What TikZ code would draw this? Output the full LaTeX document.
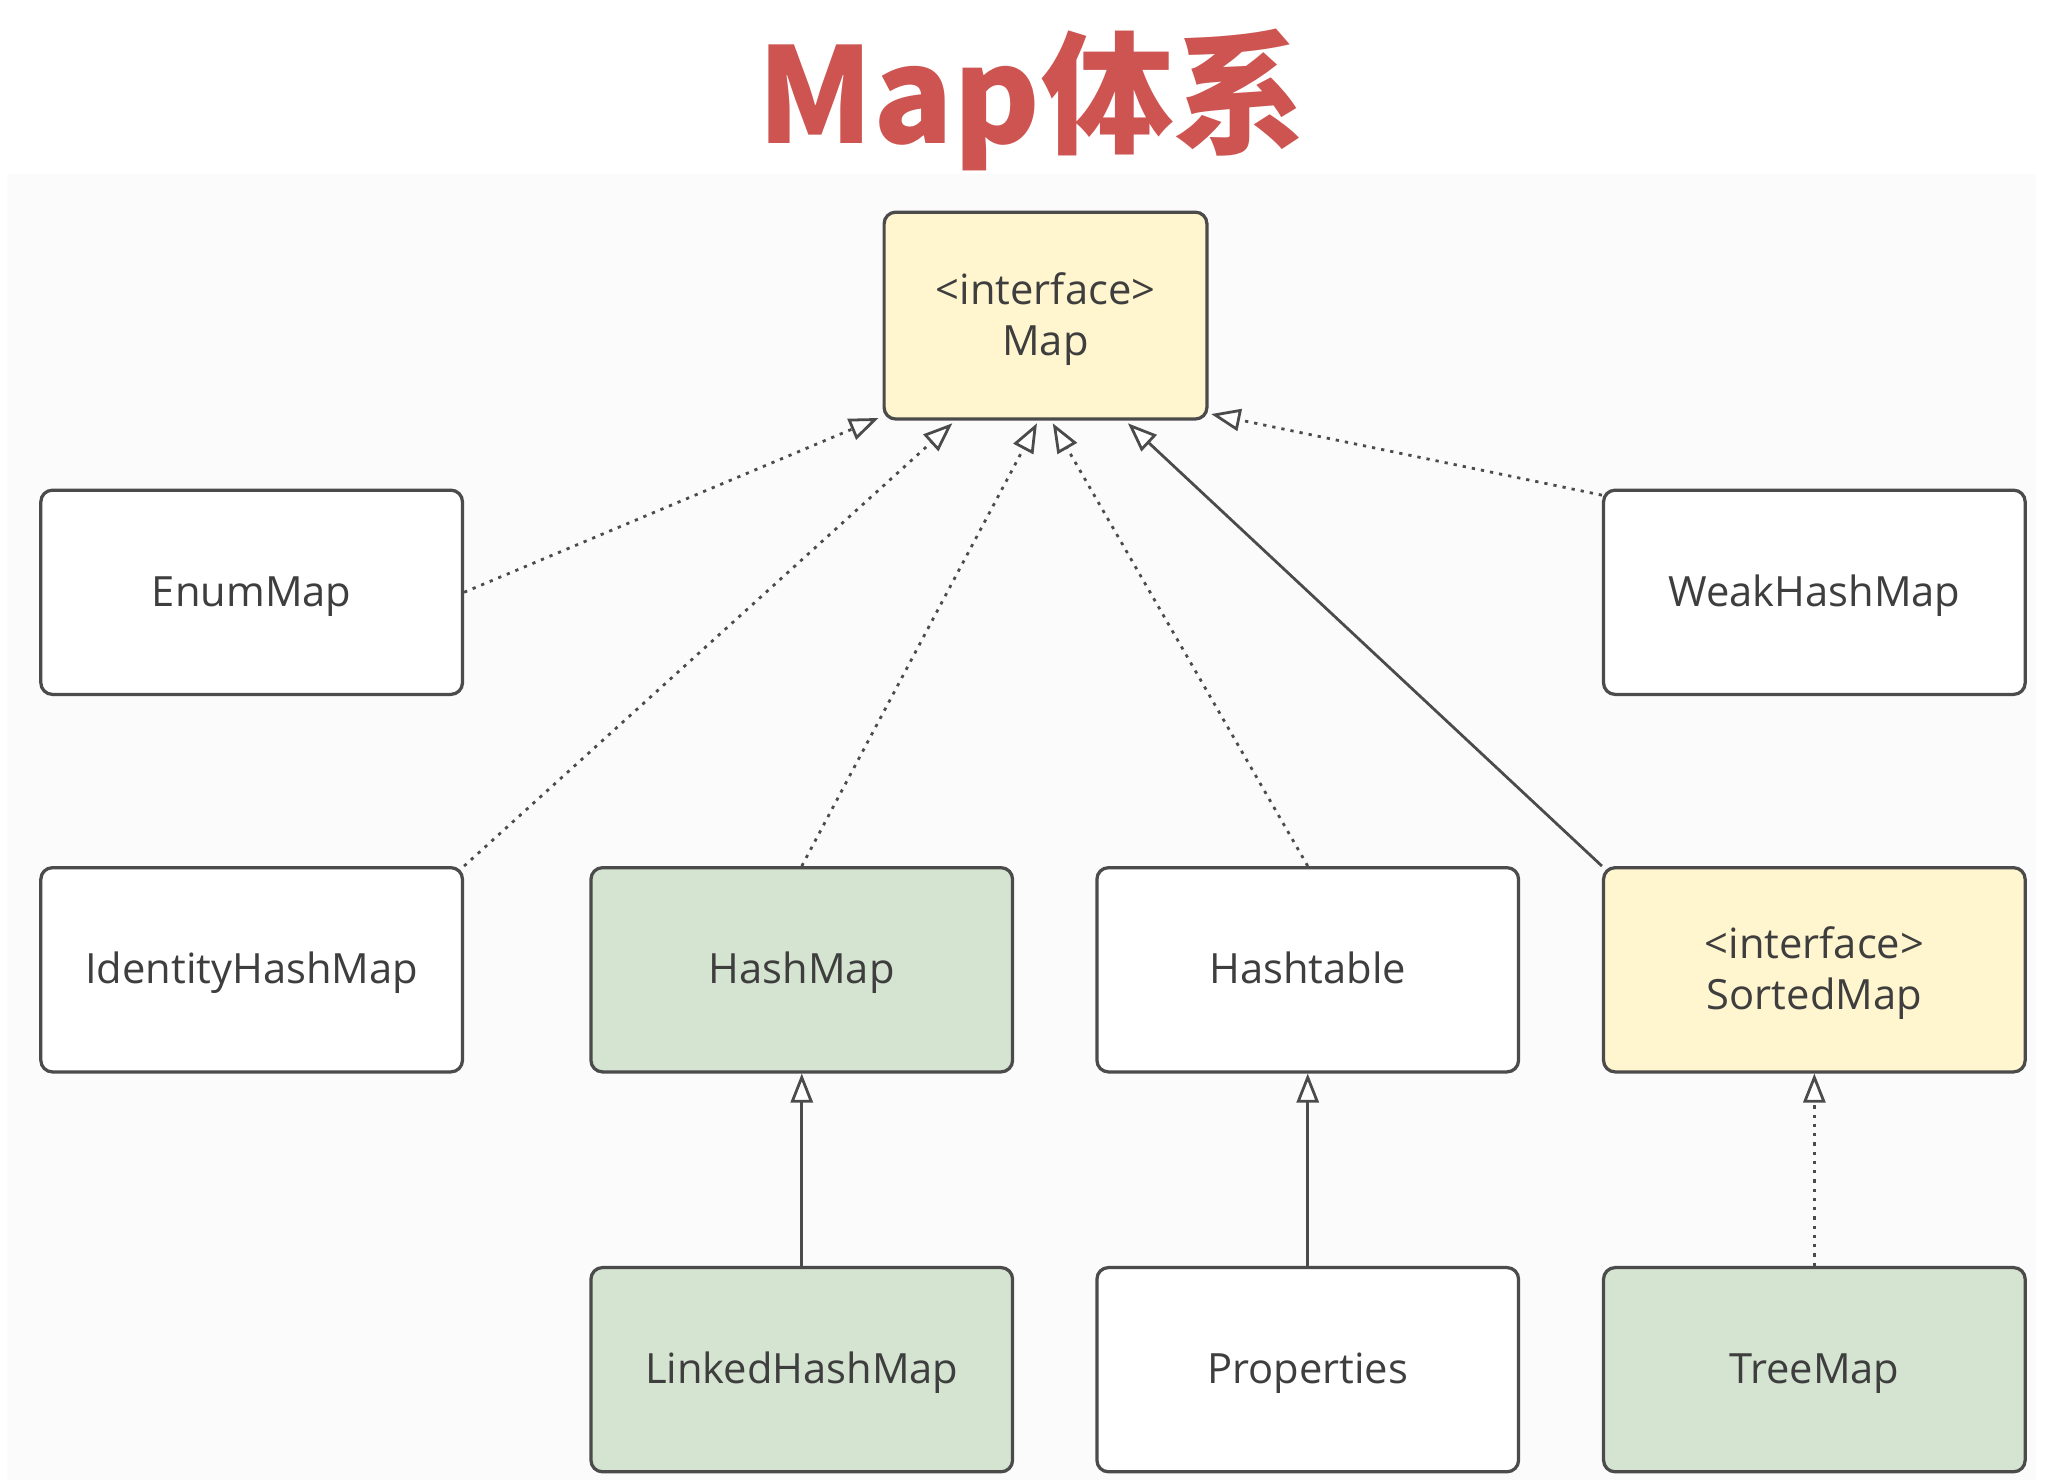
\documentclass[tikz,border=0pt]{standalone}
\usepackage{fontspec}
\setmainfont{Open Sans}
\newfontfamily\cjk{Noto Sans CJK SC}
\usetikzlibrary{arrows.meta,calc}
\definecolor{titlered}{RGB}{205,84,80}
\definecolor{yel}{RGB}{255,245,206}
\definecolor{grn}{RGB}{212,228,209}
\definecolor{edgecol}{RGB}{75,75,75}
\definecolor{txt}{RGB}{62,62,62}
\definecolor{panel}{RGB}{251,251,251}
\newcommand\mystrut{\rule[-2.45pt]{0pt}{11pt}}
\tikzset{
  cls/.style={draw=edgecol, line width=0.7pt, rounded corners=2.5pt,
    minimum width=3.2cm, minimum height=1.55cm, align=center,
    font=\fontsize{9}{11}\selectfont, text=txt, inner sep=0pt, fill=white},
  iface/.style={cls, fill=yel},
  impl/.style={cls, fill=grn},
  inh/.style={-{Triangle[length=6.3pt,width=4.8pt,fill=white]}, draw=edgecol, line width=0.6pt},
  real/.style={inh, dash pattern=on 0.7pt off 1.3pt}
}
\begin{document}
\begin{tikzpicture}[x=1cm,y=1cm]
\useasboundingbox (0,0) rectangle (15.68,-11.233);
\fill[panel] (0.05,-1.32) rectangle (15.45,-11.233);
% title
\node[text=titlered, font=\cjk\bfseries\fontsize{28.6}{30}\selectfont] (title) at (7.83,-0.76) {Map体系};
% nodes
\node[iface, minimum width=2.45cm, minimum height=1.57cm] (map) at (7.935,-2.395) {\mystrut<interface>\\\mystrut Map};
\node[cls] (enum) at (1.91,-4.495) {\mystrut EnumMap};
\node[cls] (weak) at (13.77,-4.495) {\mystrut WeakHashMap};
\node[cls] (ident) at (1.91,-7.36) {\mystrut IdentityHashMap};
\node[impl] (hash) at (6.085,-7.36) {\mystrut HashMap};
\node[cls] (htab) at (9.925,-7.36) {\mystrut Hashtable};
\node[iface] (sorted) at (13.77,-7.36) {\mystrut<interface>\\\mystrut SortedMap};
\node[impl] (linked) at (6.085,-10.395) {\mystrut LinkedHashMap};
\node[cls] (props) at (9.925,-10.395) {\mystrut Properties};
\node[impl] (tree) at (13.77,-10.395) {\mystrut TreeMap};
% arrow tip coordinates on Map
\coordinate (tE) at ($(map.south west)+(-0.03,0.02)$);
\coordinate (tI) at ($(map.south west)+(0.53,-0.02)$);
\coordinate (tH) at ($(map.south)+(-0.065,-0.02)$);
\coordinate (tT) at ($(map.south)+(0.055,-0.02)$);
\coordinate (tS) at ($(map.south)+(0.625,-0.02)$);
\coordinate (tW) at ($(map.south east)+(0.02,0.05)$);
% connectors
\draw[real] (enum.east) -- (tE);
\draw[real] (ident.north east) -- (tI);
\draw[real] (hash.north) -- (tH);
\draw[real] (htab.north) -- (tT);
\draw[inh] (sorted.north west) -- (tS);
\draw[real] ($(weak.north west)+(0,-0.05)$) -- (tW);
\draw[inh] (linked.north) -- (hash.south);
\draw[inh] (props.north) -- (htab.south);
\draw[real] (tree.north) -- (sorted.south);
\end{tikzpicture}
\end{document}
